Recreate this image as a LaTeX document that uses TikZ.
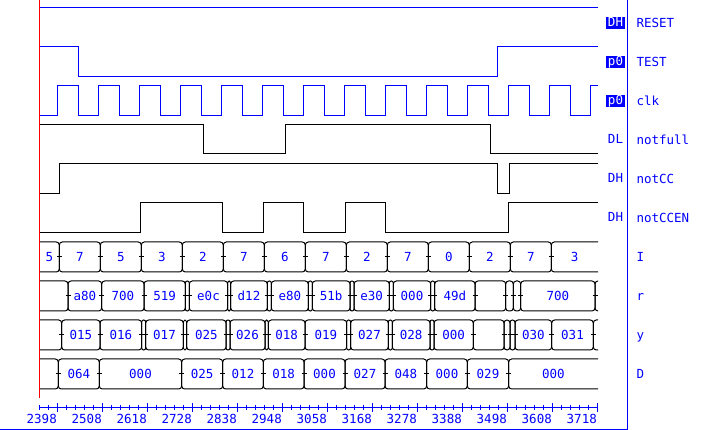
\documentclass[tikz,border=0pt]{standalone}
\usepackage{fontspec}
\setmonofont{DejaVu Sans Mono}
\newcommand{\monofnt}{\ttfamily\fontsize{12.5}{14}\selectfont}
% one bus row: #1 name, #2 top edge, #3 list of start/end/value
\newcommand{\busrow}[3]{%
  \foreach \xa/\xb/\val [count=\n] in {#3} {
    \pgfmathsetmacro{\bxa}{\xa<40 ? \xa-10 : \xa}
    \pgfmathsetmacro{\bxb}{\xb>597 ? \xb+10 : \xb}
    \pgfmathsetmacro{\rr}{min(3,(\bxb-\bxa)/2)}
    \pgfmathsetmacro{\tw}{\xa<40 ? 0 : 2.5}
    \draw[rounded corners=\rr pt] (\bxa,#2) rectangle (\bxb,#2+30);
    \draw (\xa-\tw,#2+15) -- (\xa+\tw,#2+15);
    \node[busval] (#1-\n) at ({(max(\xa,39.5)+min(\xb,598))/2},#2+15) {\val};
  }}
\begin{document}
\begin{tikzpicture}[x=1pt, y=-1pt, line width=1pt,
    busval/.style={text=blue, font=\monofnt, inner sep=0pt, text height=8.9pt, text depth=0pt},
    sname/.style={text=blue, font=\monofnt, anchor=base west, inner sep=0pt},
    flagtag/.style={text=blue, font=\monofnt, inner sep=0pt, minimum width=19pt, minimum height=12pt, text height=8.9pt, text depth=2pt},
    hitag/.style={flagtag, fill=blue, text=white},
    ticklab/.style={text=blue, font=\monofnt, anchor=base east, inner sep=0pt}]
  \useasboundingbox (0,0) rectangle (718,430);

  % signal names and flags
  \foreach \nm [count=\k from 0] in {RESET,TEST,clk,notfull,notCC,notCCEN,I,r,y,D}
    \node[sname] (name-\nm) at (636,27.3+39*\k) {\nm};
  \foreach \tg/\st [count=\k from 0] in {DH/hitag,p0/hitag,p0/hitag,DL/flagtag,DH/flagtag,DH/flagtag}
    \node[\st] (flag-\k) at (615.5,23.3+39*\k) {\tg};

  % single bit signals
  \draw[blue] (39.5,8) -- (598,8);
  \draw[blue] (39.5,47) -| (78.3,77) -| (497.3,47) -- (598,47);
  \draw[blue] (39.5,116) \foreach \k in {0,...,12} { -| (57.3+41*\k,86) -| (78.3+41*\k,116) } -| (590.3,86) -- (598,86);
  \draw (39.5,125) -| (203.3,154) -| (285,125) -| (490,154) -- (598,154);
  \draw (39.5,194) -| (59.3,164) -| (497.7,194) -| (509.3,164) -- (598,164);
  \draw (39.5,233) -| (140.7,203) -| (222.3,233) -| (263.3,203) -| (303.3,233) -| (345,203)
    -| (385.3,233) -| (508.7,203) -- (598,203);

  % buses
  \begin{scope}
    \clip (39.5,235) rectangle (598,395);
    \busrow{I}{242}{39.5/59.3/5, 59.3/100.3/7, 100.3/141.3/5, 141.3/182.3/3, 182.3/223.3/2,
      223.3/264.3/7, 264.3/305.3/6, 305.3/346.3/7, 346.3/387.3/2, 387.3/428.3/7,
      428.3/469.3/0, 469.3/510.3/2, 510.3/551.3/7, 551.3/598/3}
    \busrow{r}{281}{39.5/68/{}, 68/101.7/a80, 101.7/144/700, 144/185.3/519, 185.3/189.3/{},
      189.3/227.7/e0c, 227.7/230.7/{}, 230.7/267.3/d12, 267.3/271.3/{}, 271.3/308.3/e80,
      308.3/312.3/{}, 312.3/350/51b, 350/354/{}, 354/389.3/e30, 389.3/393.3/{},
      393.3/430.7/000, 430.7/434.7/{}, 434.7/475/49d, 475/505.7/{}, 505.7/513.3/{},
      513.3/520.7/{}, 520.7/595/700, 595/598/{}}
    \busrow{y}{320}{39.5/61.7/{}, 61.7/100/015, 100/141.7/016, 141.7/145.7/{}, 145.7/183.3/017,
      183.3/186.7/{}, 186.7/226/025, 226/230/{}, 230/265/026, 265/268.3/{}, 268.3/305/018,
      305/346.7/019, 346.7/350.7/{}, 350.7/388.3/027, 388.3/392.3/{}, 392.3/430/028,
      430/434/{}, 434/473.3/000, 473.3/504/{}, 504/510/{}, 510/515/{}, 515/551.7/030,
      551.7/593.3/031, 593.3/598/{}}
    \busrow{D}{359}{39.5/58.3/{}, 58.3/99.3/064, 99.3/181.7/000, 181.7/222.7/025, 222.7/263.3/012,
      263.3/304/018, 304/345/000, 345/385/027, 385/426.7/048, 426.7/467.3/000,
      467.3/508.7/029, 508.7/598/000}
  \end{scope}

  % time axis
  \draw[blue] (39.3,407.7) -- (597.3,407.7);
  \foreach \k in {0,...,62} {
    \pgfmathsetmacro{\tl}{mod(\k,5)==2 ? 4.5 : 2.7}
    \draw[blue] (39.3+9*\k,407.7-\tl) -- (39.3+9*\k,407.7+\tl);
  }
  \foreach \m in {0,...,12} {
    \pgfmathtruncatemacro{\tv}{2398+110*\m}
    \node[ticklab] (tick-\m) at (57.3+45*\m,424) {\tv};
  }

  % frame and cursor
  \draw[blue] (627,0) -- (627,429.5) -- (0,429.5);
  \draw[red] (39.5,0) -- (39.5,398);
\end{tikzpicture}
\end{document}
